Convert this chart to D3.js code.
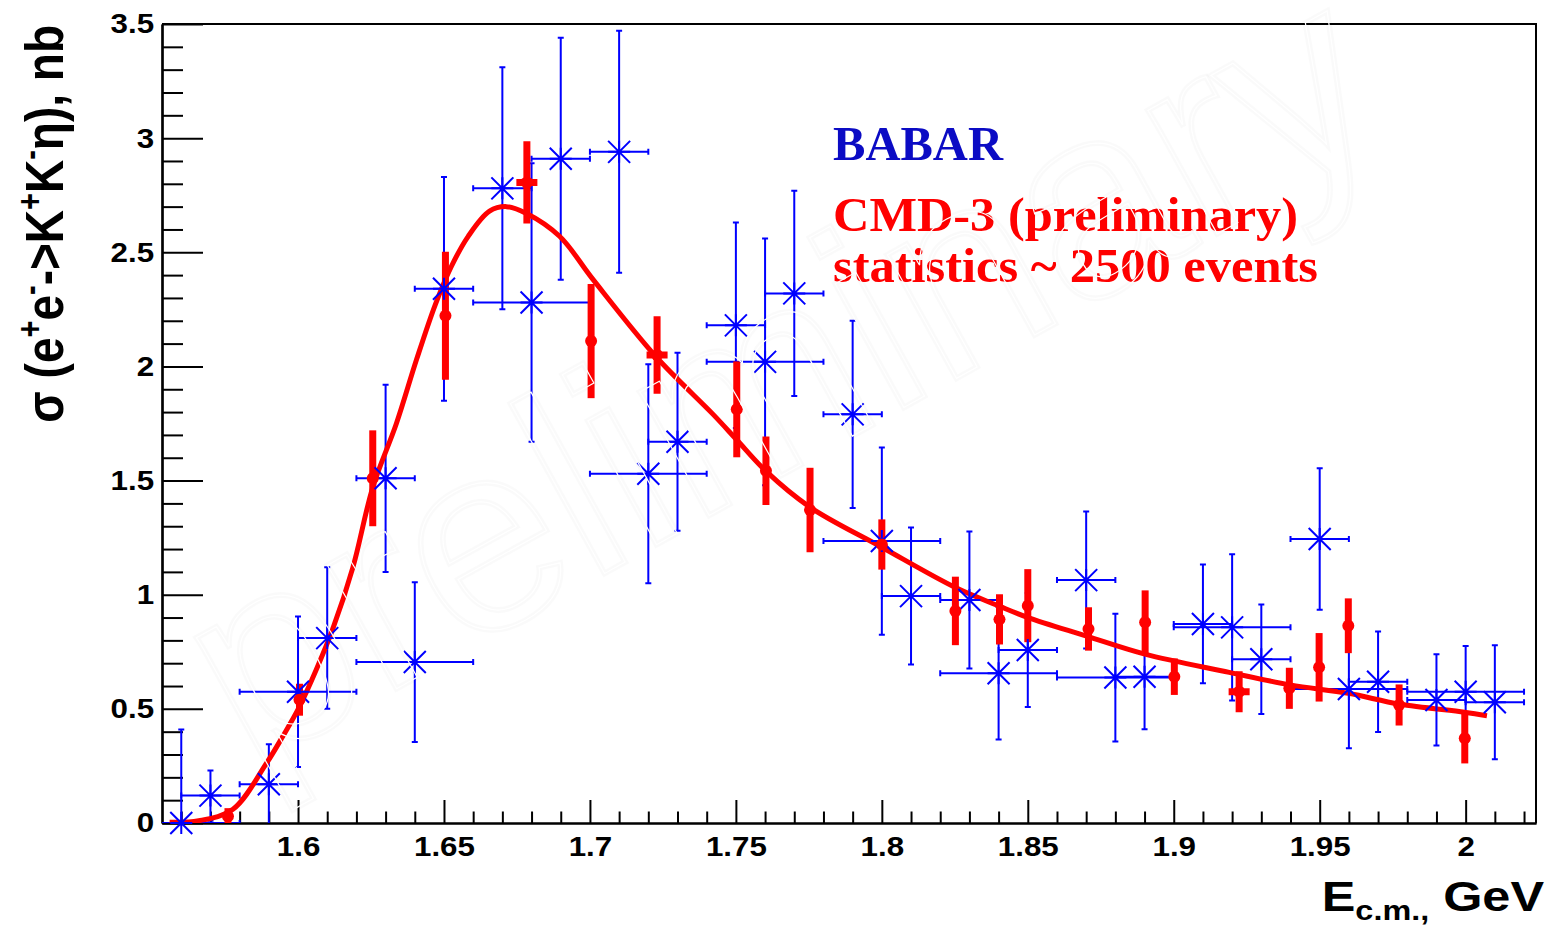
<!DOCTYPE html>
<meta charset="utf-8">
<style>
    body {
      margin: 0;
      background: #ffffff;
    }
    svg {
      display: block;
    }
    .axis text {
      font-family: "Liberation Sans", Arial, sans-serif;
      font-weight: bold;
      font-size: 28px;
      fill: #000;
    }
    .title {
      font-family: "Liberation Sans", Arial, sans-serif;
      font-weight: bold;
      fill: #000;
    }
    .legend {
      font-family: "Liberation Serif", "Times New Roman", serif;
      font-weight: bold;
      font-size: 48px;
    }
    .watermark {
      font-family: "Liberation Sans", Arial, sans-serif;
      font-size: 268px;
      fill: none;
    }
</style>
<body>
  <svg id="chart" width="1551" height="925"></svg>
  <script src="https://d3js.org/d3.v7.min.js"></script>
  <script type="text/javascript">
    // BABAR points
    var babarE = [1.56, 1.57, 1.59, 1.60, 1.61, 1.63, 1.64, 1.65, 1.67, 1.68, 1.69, 1.71, 1.72, 1.73,
                  1.75, 1.76, 1.77, 1.79, 1.80, 1.81, 1.83, 1.84, 1.85, 1.87, 1.88, 1.89, 1.91, 1.92,
                  1.93, 1.95, 1.96, 1.97, 1.99, 2.00, 2.01];
    var babarXerr = [0.02, 0.01, 0.01, 0.02, 0.01, 0.01, 0.02, 0.01, 0.01, 0.02, 0.01, 0.01, 0.02, 0.01,
                     0.01, 0.02, 0.01, 0.01, 0.02, 0.01, 0.01, 0.02, 0.01, 0.01, 0.02, 0.01, 0.01, 0.02,
                     0.01, 0.01, 0.02, 0.01, 0.01, 0.02, 0.01];
    var babarSigma = [0.0, 0.12, 0.17, 0.575, 0.81, 1.51, 0.705, 2.34, 2.78, 2.28, 2.91, 2.94, 1.53, 1.67,
                      2.18, 2.02, 2.32, 1.79, 1.235, 0.994, 0.977, 0.656, 0.758, 1.064, 0.637, 0.641, 0.872, 0.857,
                      0.717, 1.244, 0.587, 0.619, 0.539, 0.575, 0.529];
    var babarErr = [0.41, 0.11, 0.175, 0.33, 0.31, 0.41, 0.35, 0.49, 0.53, 0.61, 0.53, 0.53, 0.48, 0.39,
                    0.45, 0.54, 0.45, 0.41, 0.41, 0.30, 0.30, 0.29, 0.25, 0.30, 0.28, 0.23, 0.26, 0.32,
                    0.24, 0.31, 0.26, 0.22, 0.20, 0.20, 0.25];

    // CMD-3 points
    var cmdE = [1.576, 1.6005, 1.6256, 1.6505, 1.6784, 1.7004, 1.723, 1.7503, 1.7603, 1.7754, 1.80, 1.8252,
                1.8403, 1.85, 1.8708, 1.8902, 1.9002, 1.9224, 1.9396, 1.9498, 1.9598, 1.9772, 1.9997];
    var cmdXerr = [0, 0, 0, 0, 0.0036, 0, 0.0036, 0, 0, 0, 0, 0,
                   0, 0, 0, 0, 0, 0.0036, 0, 0, 0, 0, 0];
    var cmdSigma = [0.03, 0.54, 1.51, 2.222, 2.806, 2.111, 2.05, 1.812, 1.543, 1.371, 1.22, 0.929,
                    0.892, 0.952, 0.85, 0.879, 0.641, 0.575, 0.59, 0.682, 0.864, 0.517, 0.371];
    var cmdErr = [0.035, 0.07, 0.21, 0.28, 0.18, 0.25, 0.17, 0.21, 0.15, 0.185, 0.11, 0.15,
                  0.11, 0.16, 0.095, 0.14, 0.08, 0.09, 0.09, 0.15, 0.12, 0.09, 0.11];

    // fit curve
    var fitE = [1.556, 1.566, 1.5777, 1.5891, 1.5948, 1.6005, 1.6062, 1.6119, 1.6188, 1.6256, 1.6337, 1.6406,
                1.647, 1.6526, 1.6583, 1.6656, 1.6714, 1.6783, 1.6896, 1.7011, 1.7228, 1.7422, 1.7502, 1.7604,
                1.7752, 1.7997, 1.8254, 1.8402, 1.8501, 1.8699, 1.8901, 1.919, 1.9399, 1.9598, 1.9773, 1.9996, 2.0073];
    var fitSigma = [0.003, 0.01, 0.06, 0.26, 0.38, 0.51, 0.67, 0.85, 1.12, 1.47, 1.75, 2.03,
                    2.27, 2.44, 2.57, 2.68, 2.70, 2.67, 2.57, 2.38, 2.04, 1.79, 1.68, 1.54,
                    1.385, 1.21, 1.03, 0.95, 0.90, 0.82, 0.74, 0.66, 0.605, 0.568, 0.521, 0.485, 0.47];

    var xMajor = [1.6, 1.65, 1.7, 1.75, 1.8, 1.85, 1.9, 1.95, 2.0];
    var yMajor = [0, 0.5, 1, 1.5, 2, 2.5, 3, 3.5];

    var blue = "#0000ff", red = "#ff0000";
    var stretch = "scale(1.12,1)";

    var svg = d3.select("#chart"),
        margin = {top: 24, right: 15, bottom: 102, left: 162},
        width = +svg.attr("width") - margin.left - margin.right,
        height = +svg.attr("height") - margin.top - margin.bottom;

    var x = d3.scaleLinear().domain([1.5534, 2.0241]).range([0, width]);
    var y = d3.scaleLinear().domain([0, 3.5]).range([height, 0]);

    var xMinor = d3.range(155, 203).map(function (i) { return i / 100; })
      .filter(function (v) { return xMajor.indexOf(v) < 0 && v >= x.domain()[0] && v <= x.domain()[1]; });
    var yMinor = d3.range(0, 36).map(function (i) { return i / 10; })
      .filter(function (v) { return yMajor.indexOf(v) < 0; });

    svg.append("defs").append("clipPath").attr("id", "clip")
      .append("rect").attr("width", width).attr("height", height);

    var g = svg.append("g")
      .attr("transform", "translate(" + margin.left + "," + margin.top + ")");

    function styleAxis(sel) {
      sel.attr("font-family", null).attr("font-size", null);
      sel.selectAll("line").attr("stroke", "#000").attr("stroke-width", 2);
      sel.selectAll("path").attr("stroke", "#000").attr("stroke-width", 2.2);
    }

    // frame top and right
    g.append("path")
      .attr("d", d3.line()([[0, 0], [width, 0], [width, height]]))
      .attr("fill", "none").attr("stroke", "#000").attr("stroke-width", 2);

    // x axis
    g.append("g").attr("class", "axis")
      .attr("transform", "translate(0," + height + ")")
      .call(d3.axisBottom(x).tickValues(xMinor).tickSizeInner(-11.5).tickSizeOuter(0).tickFormat(""))
      .call(styleAxis);
    g.append("g").attr("class", "axis")
      .attr("transform", "translate(0," + height + ")")
      .call(d3.axisBottom(x).tickValues(xMajor).tickSizeInner(-23).tickSizeOuter(0).tickPadding(13)
        .tickFormat(function (d) { return String(+d.toFixed(2)); }))
      .call(styleAxis)
      .selectAll("text").attr("transform", stretch);

    // y axis
    g.append("g").attr("class", "axis")
      .call(d3.axisLeft(y).tickValues(yMinor).tickSizeInner(-21).tickSizeOuter(0).tickFormat(""))
      .call(styleAxis);
    g.append("g").attr("class", "axis")
      .call(d3.axisLeft(y).tickValues(yMajor).tickSizeInner(-41).tickSizeOuter(0).tickPadding(7)
        .tickFormat(function (d) { return String(d); }))
      .call(styleAxis)
      .selectAll("text").attr("transform", stretch);

    // axis titles
    var yTitle = svg.append("text").attr("class", "title")
      .attr("transform", "translate(63,25) scale(1.18,1) rotate(-90)")
      .attr("text-anchor", "end")
      .style("font-size", "46px");
    var yParts = [["\u03c3 (e", 0], ["+", 1], ["e", 0], ["-", 1], ["->K", 0], ["+", 1], ["K", 0], ["-", 1], ["\u03b7), nb", 0]];
    var lastUp = 0;
    yParts.forEach(function (p) {
      var up = p[1] ? -18 : 0;
      yTitle.append("tspan")
        .attr("dy", up - lastUp)
        .style("font-size", p[1] ? "29px" : "46px")
        .text(p[0]);
      lastUp = up;
    });

    var xTitle = svg.append("text").attr("class", "title")
      .attr("transform", "translate(1544,911) scale(1.2,1)")
      .attr("text-anchor", "end")
      .style("font-size", "42px");
    xTitle.append("tspan").text("E");
    xTitle.append("tspan").attr("dy", 9).style("font-size", "27px").text("c.m.,");
    xTitle.append("tspan").attr("dy", -9).text(" GeV");

    // data
    var babar = babarE.map(function (e, i) {
      return {e: e, de: babarXerr[i], s: babarSigma[i], ds: babarErr[i]};
    });
    var cmd = cmdE.map(function (e, i) {
      return {e: e, de: cmdXerr[i], s: cmdSigma[i], ds: cmdErr[i]};
    });
    var fit = fitE.map(function (e, i) { return [e, fitSigma[i]]; });

    var clipped = g.append("g").attr("clip-path", "url(#clip)");

    // BABAR error bars
    clipped.selectAll(".bbar")
      .data(babar)
      .enter().append("path")
      .attr("class", "bbar")
      .attr("fill", "none")
      .attr("stroke", blue)
      .attr("stroke-width", 2)
      .attr("d", function (d) {
        var x0 = x(d.e - d.de), x1 = x(d.e + d.de), xc = x(d.e);
        var y0 = y(d.s - d.ds), y1 = y(d.s + d.ds), yc = y(d.s);
        return "M" + x0 + "," + yc + "H" + x1 +
          "M" + x0 + "," + (yc - 3) + "V" + (yc + 3) +
          "M" + x1 + "," + (yc - 3) + "V" + (yc + 3) +
          "M" + xc + "," + y0 + "V" + y1 +
          "M" + (xc - 3) + "," + y0 + "H" + (xc + 3) +
          "M" + (xc - 3) + "," + y1 + "H" + (xc + 3);
      });

    // BABAR markers (asterisk)
    g.selectAll(".bstar")
      .data(babar)
      .enter().append("path")
      .attr("class", "bstar")
      .attr("fill", "none")
      .attr("stroke", blue)
      .attr("stroke-width", 2)
      .attr("transform", function (d) { return "translate(" + x(d.e) + "," + y(d.s) + ")"; })
      .attr("d", "M-11,0H11M0,-11V11M-11,-11L11,11M-11,11L11,-11");

    // fit
    clipped.append("path")
      .datum(fit)
      .attr("fill", "none")
      .attr("stroke", red)
      .attr("stroke-width", 5)
      .attr("d", d3.line()
        .x(function (d) { return x(d[0]); })
        .y(function (d) { return y(d[1]); })
        .curve(d3.curveCatmullRom.alpha(0.5)));

    // CMD-3 points
    clipped.selectAll(".cbar")
      .data(cmd)
      .enter().append("path")
      .attr("class", "cbar")
      .attr("fill", "none")
      .attr("stroke", red)
      .attr("stroke-width", 7)
      .attr("d", function (d) {
        var p = "M" + x(d.e) + "," + y(d.s - d.ds) + "V" + y(d.s + d.ds);
        if (d.de > 0) p += "M" + x(d.e - d.de) + "," + y(d.s) + "H" + x(d.e + d.de);
        return p;
      });

    g.selectAll(".cdot")
      .data(cmd)
      .enter().append("circle")
      .attr("class", "cdot")
      .attr("fill", red)
      .attr("cx", function (d) { return x(d.e); })
      .attr("cy", function (d) { return y(d.s); })
      .attr("r", 6);

    // legend
    svg.append("text").attr("class", "legend")
      .attr("x", 833).attr("y", 160)
      .attr("fill", "#0b0bc4")
      .attr("textLength", 170).attr("lengthAdjust", "spacingAndGlyphs")
      .text("BABAR");
    svg.append("text").attr("class", "legend")
      .attr("x", 833).attr("y", 231)
      .attr("fill", red)
      .attr("textLength", 465).attr("lengthAdjust", "spacingAndGlyphs")
      .text("CMD-3 (preliminary)");
    svg.append("text").attr("class", "legend")
      .attr("x", 833).attr("y", 282)
      .attr("fill", red)
      .attr("textLength", 485).attr("lengthAdjust", "spacingAndGlyphs")
      .text("statistics ~ 2500 events");

    // watermark
    var wm = svg.append("g").attr("transform", "translate(250,770) rotate(-29)");
    wm.append("text").attr("class", "watermark")
      .attr("stroke", "#000").attr("stroke-opacity", 0.018).attr("stroke-width", 6)
      .text("preliminary");
    wm.append("text").attr("class", "watermark")
      .attr("stroke", "#fff").attr("stroke-width", 1.2)
      .text("preliminary");
  </script>
</body>
